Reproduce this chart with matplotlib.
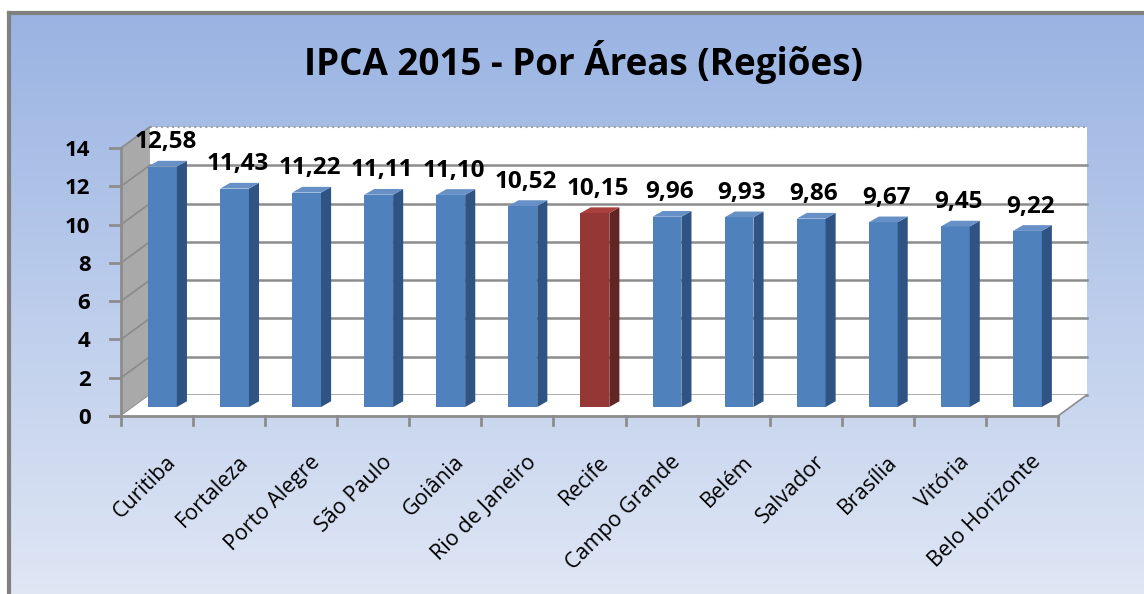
import numpy as np
import matplotlib
matplotlib.use("Agg")
import matplotlib.pyplot as plt
from matplotlib.patches import Polygon, Rectangle

# IPCA 2015 por regiões
cidades = ["Curitiba", "Fortaleza", "Porto Alegre", "São Paulo", "Goiânia",
           "Rio de Janeiro", "Recife", "Campo Grande", "Belém", "Salvador",
           "Brasília", "Vitória", "Belo Horizonte"]
valores = [12.58, 11.43, 11.22, 11.11, 11.10, 10.52, 10.15, 9.96, 9.93, 9.86,
           9.67, 9.45, 9.22]
destaque = "Recife"
yticks = [0, 2, 4, 6, 8, 10, 12, 14]

W, H = 1144, 594
fig = plt.figure(figsize=(W / 100, H / 100), dpi=100)
fig.patch.set_facecolor("white")

# fundo com gradiente
bg = fig.add_axes([0, 0, 1, 1])
bg.set_xlim(0, W)
bg.set_ylim(H, 0)
bg.axis("off")
grad = np.linspace(0, 1, 256).reshape(-1, 1)
c_top = np.array([0x99, 0xb3, 0xe2]) / 255
c_bot = np.array([0xe0, 0xe7, 0xf5]) / 255
img = c_top + (c_bot - c_top) * grad[:, :, None]
bg.imshow(img, extent=[9, W + 5, H + 5, 13], aspect="auto", zorder=0)
bg.plot([9, 9], [H + 5, 13], color="#808080", lw=3, zorder=1)
bg.plot([9, W + 5], [13, 13], color="#808080", lw=3, zorder=1)
bg.text(583, 62, "IPCA 2015 - Por Áreas (Regiões)", ha="center", va="center",
        fontsize=26.5, fontweight="bold", family="Open Sans")

# eixo principal (plano frontal): x 0..13, y 0..14
x0, x1, y0, y1 = 121, 1058, 416, 148
ax = fig.add_axes([x0 / W, 1 - y0 / H, (x1 - x0) / W, (y0 - y1) / H])
ax.set_xlim(0, len(cidades))
ax.set_ylim(0, 14)
ax.patch.set_alpha(0)
for s in ["top", "right", "bottom", "left"]:
    ax.spines[s].set_visible(False)

n = len(cidades)
dx, dy = 0.40, 1.1  # profundidade da perspectiva

# parede do fundo
ax.add_patch(Rectangle((dx, dy), n, 14, facecolor="white", edgecolor="none",
                       zorder=1, clip_on=False))
for t in yticks[:-1]:
    ax.plot([dx, n + dx], [t + dy, t + dy], color="#8c8c8c", lw=1.8, zorder=2,
            clip_on=False)
ax.plot([dx, n + dx], [14 + dy, 14 + dy], color="#a0a0a0", lw=1.5, ls=":",
        zorder=2, clip_on=False)

# parede lateral
ax.add_patch(Polygon([(0, 0), (dx, dy), (dx, 14 + dy), (0, 14)],
                     facecolor="#a9a9a9", edgecolor="none", zorder=3,
                     clip_on=False))
for t in yticks:
    ax.plot([0, dx], [t, t + dy], color="#8a8a8a", lw=1.2, zorder=3,
            clip_on=False)

# piso
ax.add_patch(Polygon([(0, 0), (n, 0), (n + dx, dy), (dx, dy)],
                     facecolor="white", edgecolor="none", zorder=3,
                     clip_on=False))
ax.plot([n, n + dx], [0, dy], color="#8c8c8c", lw=1.2, zorder=3, clip_on=False)

# eixos frontais
ax.plot([0, 0], [0, 14], color="#8c8c8c", lw=2, zorder=4, clip_on=False)
ax.plot([-0.15, n], [0, 0], color="#8c8c8c", lw=2, zorder=4, clip_on=False)
for t in yticks:
    ax.plot([-0.15, 0], [t, t], color="#8c8c8c", lw=2, zorder=4, clip_on=False)
for i in range(n + 1):
    ax.plot([i, i], [0, -0.45], color="#8c8c8c", lw=2, zorder=4, clip_on=False)
ax.set_xticks([])
ax.set_yticks(yticks)
ax.set_yticklabels([str(t) for t in yticks], fontsize=16, fontweight="bold",
                   family="Open Sans")
ax.tick_params(axis="y", length=0, pad=22)

# barras 3D
bw, off, base, lift = 0.40, 0.375, 0.47, 0.45
sdx, sdy = 0.14, 0.30
for i, (c, v) in enumerate(zip(cidades, valores)):
    if c == destaque:
        cf, cs, ct = "#953735", "#632523", "#a8403d"
    else:
        cf, cs, ct = "#4f81bd", "#2f5383", "#6690c6"
    xl = i + off
    xr = xl + bw
    top = v + lift
    ax.add_patch(Rectangle((xl, base), bw, top - base, facecolor=cf,
                           edgecolor="none", zorder=5, clip_on=False))
    ax.add_patch(Polygon([(xr, base), (xr + sdx, base + sdy),
                          (xr + sdx, top + sdy), (xr, top)],
                         facecolor=cs, edgecolor="none", zorder=5,
                         clip_on=False))
    ax.add_patch(Polygon([(xl, top), (xr, top), (xr + sdx, top + sdy),
                          (xl + sdx, top + sdy)],
                         facecolor=ct, edgecolor="none", zorder=5,
                         clip_on=False))
    ax.text(xl + bw / 2 + 0.04, top + 1.27, f"{v:.2f}".replace(".", ","),
            ha="center", va="center", fontsize=17.5, fontweight="bold",
            family="Open Sans", zorder=6)
    ax.text(i + 0.62, -1.85, c, rotation=45, ha="right", va="top",
            rotation_mode="anchor", fontsize=15.5, family="Open Sans",
            zorder=6)

fig.savefig("out.png", dpi=100)
